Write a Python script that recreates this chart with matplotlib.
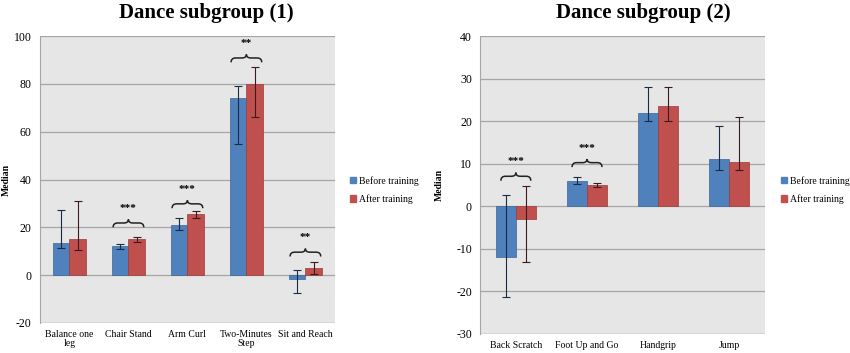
import numpy as np
import matplotlib
matplotlib.use('Agg')
import matplotlib.pyplot as plt
from matplotlib.path import Path
from matplotlib.patches import PathPatch

plt.rcParams['axes.unicode_minus'] = False

# Painel 1
cat1 = ['Balance one\nleg', 'Chair Stand', 'Arm Curl', 'Two-Minutes\nStep', 'Sit and Reach']
antes1 = [13.5, 12, 21, 74, -1.5]
antes1_inf = [11.5, 11, 19, 55, -7.5]
antes1_sup = [27.3, 13, 24, 79, 2]
depois1 = [15, 15, 25.5, 80, 3]
depois1_inf = [10.5, 14, 24, 66, 0.5]
depois1_sup = [31, 16, 27, 87, 5.5]
sig1_idx = [1, 2, 3, 4]
sig1_nivel = [20, 28, 89, 7.8]
sig1_txt = ['***', '***', '**', '**']

# Painel 2
cat2 = ['Back Scratch', 'Foot Up and Go', 'Handgrip', 'Jump']
antes2 = [-12, 6, 22, 11.2]
antes2_inf = [-21.3, 5.3, 20, 8.5]
antes2_sup = [2.7, 6.8, 28, 18.8]
depois2 = [-3, 5, 23.5, 10.4]
depois2_inf = [-13, 4.6, 20, 8.5]
depois2_sup = [4.7, 5.5, 28, 21]
sig2_idx = [0, 1]
sig2_nivel = [6, 9.2]
sig2_txt = ['***', '***']

AZUL = '#4F81BD'
VERMELHO = '#C0504D'
SERIF = 'Liberation Serif'


def chave(ax, c, hw, y0, h, txt):
    # chave horizontal com ponta para cima
    x0, x1 = c - hw, c + hw
    rx = hw * 0.3
    ym = y0 + 0.55 * h
    verts = [(x0, y0), (x0, ym), (x0 + rx, ym), (c - rx, ym), (c, ym), (c, y0 + h),
             (c, ym), (c + rx, ym), (x1 - rx, ym), (x1, ym), (x1, y0)]
    codes = [Path.MOVETO, Path.CURVE3, Path.CURVE3, Path.LINETO, Path.CURVE3, Path.CURVE3,
             Path.CURVE3, Path.CURVE3, Path.LINETO, Path.CURVE3, Path.CURVE3]
    ax.add_patch(PathPatch(Path(verts, codes), fill=False, lw=1.1, ec='#222222'))
    ax.text(c, y0 + h * 1.8, txt, ha='center', va='bottom', fontsize=8,
            family=SERIF, fontweight='bold')


def painel(ax, cats, a, a_inf, a_sup, d, d_inf, d_sup, ylim, passo,
           sig_idx, sig_nivel, sig_txt, bw, hw, h_chave, xlab):
    x = np.arange(len(cats))
    ax.set_facecolor('#E6E6E6')
    ax.bar(x - bw / 2, a, bw, color=AZUL, edgecolor='#3A6596', lw=0.5, zorder=3)
    ax.bar(x + bw / 2, d, bw, color=VERMELHO, edgecolor='#9A3B39', lw=0.5, zorder=3)
    a, d = np.array(a), np.array(d)
    ax.errorbar(x - bw / 2, a, yerr=[a - np.array(a_inf), np.array(a_sup) - a], fmt='none',
                ecolor='#1B2A45', elinewidth=0.8, capsize=3, capthick=0.8, zorder=4)
    ax.errorbar(x + bw / 2, d, yerr=[d - np.array(d_inf), np.array(d_sup) - d], fmt='none',
                ecolor='#3A1A1A', elinewidth=0.8, capsize=3, capthick=0.8, zorder=4)
    for i, y0, t in zip(sig_idx, sig_nivel, sig_txt):
        chave(ax, x[i], hw, y0, h_chave, t)
    ax.set_xlim(-0.5, len(cats) - 0.5)
    ax.set_ylim(*ylim)
    ax.set_yticks(np.arange(ylim[0], ylim[1] + 1, passo))
    ax.set_xticks(x)
    ax.set_xticklabels(cats, family=SERIF, fontsize=7, linespacing=1.05)
    for lb in ax.get_yticklabels():
        lb.set_family(SERIF)
        lb.set_fontsize(8.5)
    ax.yaxis.grid(True, color='#A6A6A6', lw=0.9, zorder=1)
    ax.set_axisbelow(True)
    for s in ['top', 'right', 'bottom']:
        ax.spines[s].set_visible(False)
    ax.spines['left'].set_color('#A6A6A6')
    ax.axhline(ylim[0], color='#A6A6A6', lw=0.9, zorder=2)
    ax.tick_params(axis='y', length=0, pad=6)
    ax.tick_params(axis='x', length=0, pad=5)
    ax.set_ylabel('Median', family=SERIF, fontweight='bold', fontsize=7)
    ax.yaxis.set_label_coords(xlab, 0.5)


fig = plt.figure(figsize=(8.5, 3.53), dpi=100)
ax1 = fig.add_axes([0.047, 0.085, 0.347, 0.813])
ax2 = fig.add_axes([0.565, 0.054, 0.335, 0.844])

painel(ax1, cat1, antes1, antes1_inf, antes1_sup, depois1, depois1_inf, depois1_sup,
       (-20, 100), 20, sig1_idx, sig1_nivel, sig1_txt, 0.28, 0.26, 3.3, -0.1)
painel(ax2, cat2, antes2, antes2_inf, antes2_sup, depois2, depois2_inf, depois2_sup,
       (-30, 40), 10, sig2_idx, sig2_nivel, sig2_txt, 0.28, 0.21, 1.9, -0.128)

fig.text(0.243, 0.963, 'Dance subgroup (1)', ha='center', va='center', family=SERIF,
         fontweight='bold', fontsize=15)
fig.text(0.757, 0.963, 'Dance subgroup (2)', ha='center', va='center', family=SERIF,
         fontweight='bold', fontsize=15)

for xl in [0.412, 0.919]:
    h = [plt.Rectangle((0, 0), 1, 1, color=AZUL), plt.Rectangle((0, 0), 1, 1, color=VERMELHO)]
    fig.legend(h, ['Before training', 'After training'], loc='center left',
               bbox_to_anchor=(xl, 0.462), frameon=False, prop={'family': SERIF, 'size': 7},
               handlelength=0.6, handleheight=0.6, handletextpad=0.3, labelspacing=0.9,
               borderaxespad=0, borderpad=0)

fig.savefig('out.png', dpi=100)
